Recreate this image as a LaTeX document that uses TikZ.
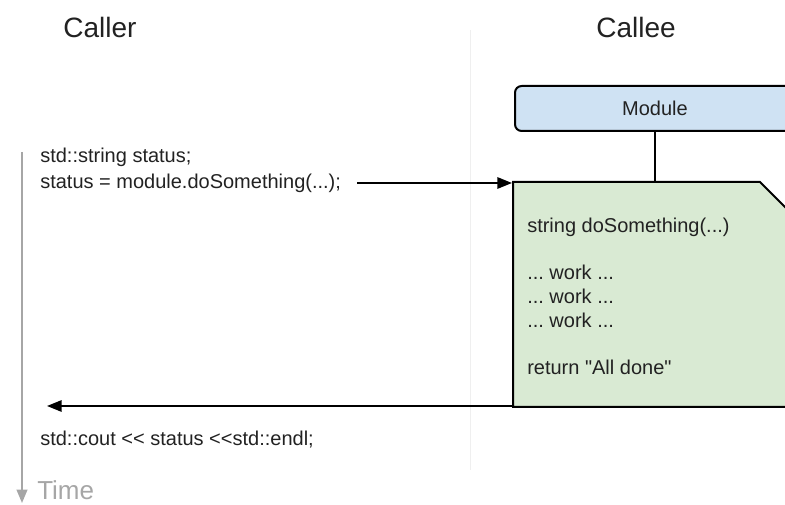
\documentclass[tikz,border=0pt]{standalone}
\usepackage{fontspec}
\setmainfont{Liberation Sans}
\newfontfamily\lsans{Liberation Sans}
\usetikzlibrary{arrows.meta}
\frenchspacing
\definecolor{txt}{HTML}{222222}
\definecolor{modfill}{HTML}{CFE2F3}
\definecolor{docfill}{HTML}{D9EAD3}
\definecolor{timegray}{HTML}{A6A6A6}
\definecolor{divgray}{HTML}{EFEFEF}
\tikzset{
  title/.style={text=txt, font=\lsans\fontsize{21}{24}\selectfont, inner sep=0pt},
  code/.style={text=txt, font=\lsans\frenchspacing\fontsize{15}{18}\selectfont, anchor=west, inner sep=0pt},
  flow/.style={draw=black, line width=1.5pt, -{Triangle[length=11pt,width=8.5pt]}},
  modbox/.style={draw=black, line width=1.5pt, fill=modfill, rounded corners=5pt, minimum width=210pt, minimum height=33.75pt, inner sep=0pt, font=\lsans\fontsize{15}{18}\selectfont, text=txt},
  docbox/.style={draw=black, line width=1.5pt, fill=docfill},
}
\begin{document}
\begin{tikzpicture}[x=0.75pt,y=-0.75pt]
\useasboundingbox (0,0) rectangle (785,505);
\clip (0,0) rectangle (785,505);
% divider
\draw[divgray, line width=0.75pt] (470,30) -- (470,470);
% titles
\node[title] (caller) at (100,27) {Caller};
\node[title] (callee) at (636,27) {Callee};
% module
\node[modbox] (module) at (655,108.5) {Module};
% document shape
\coordinate (dTL) at (513,182);
\coordinate (dBL) at (513,407);
\draw[docbox] (dTL) -- (760,182) -- (800,222) -- (800,407) -- (dBL) -- cycle;
\coordinate (dTop) at (655,182);
\draw[line width=1.5pt] (module.south) -- (dTop);
% green text
\node[code] (sig) at (527,227) {string doSomething(...)};
\node[code] (w1) at (527,272) {... work ...};
\node[code] (w2) at (527,296) {... work ...};
\node[code] (w3) at (527,320) {... work ...};
\node[code] (ret) at (527,367) {return "All done"};
% caller code
\node[code] (decl) at (40,157) {std::string status;};
\node[code] (call) at (40,183) {status = module.doSomething(...);};
\node[code] (cout) at (40,440) {std::cout << status <<std::endl;};
\coordinate (callStart) at (357,183);
\coordinate (callEnd) at (512,183);
\draw[flow] (callStart) -- (callEnd);
\coordinate (retStart) at (513,406);
\coordinate (retEnd) at (47,406);
\draw[flow] (retStart) -- (retEnd);
% time axis
\coordinate (tTop) at (22,152);
\coordinate (tBot) at (22,503);
\draw[timegray, line width=1.5pt, -{Triangle[length=10pt,width=8pt]}] (tTop) -- (tBot);
\node[anchor=west, inner sep=0pt, text=timegray, font=\lsans\fontsize{19.5}{22}\selectfont] (time) at (37,490) {Time};
\end{tikzpicture}
\end{document}
